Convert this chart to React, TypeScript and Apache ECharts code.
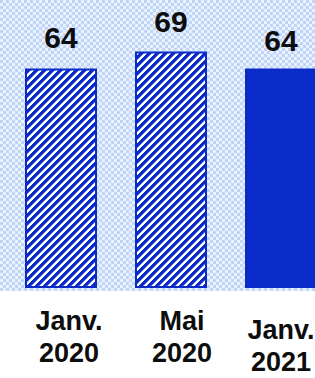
import React, { useEffect, useRef } from "react";
import * as echarts from "echarts";

const categories = ["Janv.\n2020", "Mai\n2020", "Janv.\n2021"];
const values = [64, 69, 64];
const hatched = [true, true, false];

const BLUE = "#0a2bc8";
const FONT = "'Liberation Sans', Arial, Helvetica, sans-serif";

function makeChecker(): HTMLCanvasElement {
  const c = document.createElement("canvas");
  c.width = 6;
  c.height = 6;
  const ctx = c.getContext("2d")!;
  ctx.fillStyle = "#e8f1fd";
  ctx.fillRect(0, 0, 6, 6);
  ctx.fillStyle = "#bfd6f8";
  ctx.fillRect(0, 0, 3, 3);
  ctx.fillRect(3, 3, 3, 3);
  return c;
}

function makeHatch(): HTMLCanvasElement {
  const p = 8;
  const c = document.createElement("canvas");
  c.width = p;
  c.height = p;
  const ctx = c.getContext("2d")!;
  const img = ctx.createImageData(p, p);
  for (let y = 0; y < p; y++) {
    for (let x = 0; x < p; x++) {
      const k = (x + y) % p;
      const i = (y * p + x) * 4;
      let r = 255, g = 255, b = 255;
      if (k < 4) {
        r = 10; g = 43; b = 200;
      } else if (k === 4) {
        r = 110; g = 130; b = 222;
      }
      img.data[i] = r;
      img.data[i + 1] = g;
      img.data[i + 2] = b;
      img.data[i + 3] = 255;
    }
  }
  ctx.putImageData(img, 0, 0);
  return c;
}

export default function App() {
  const ref = useRef<HTMLDivElement>(null);

  useEffect(() => {
    if (!ref.current) return;
    const chart = echarts.init(ref.current, undefined, { renderer: "svg" });
    const checker = makeChecker();
    const hatch = makeHatch();
    const checkerPattern: any = { image: checker, repeat: "repeat", imageWidth: 6, imageHeight: 6 };
    const hatchPattern: any = { image: hatch, repeat: "repeat", imageWidth: 8, imageHeight: 8 };
    const labelDist = [16, 15, 13];
    const labelPads = [
      [0, 0, 0, 16],
      [0, 0, 0, 22],
      [9, 0, 0, 0],
    ];

    chart.setOption({
      animation: false,
      backgroundColor: "#ffffff",
      graphic: [
        {
          type: "rect",
          shape: { x: 0, y: 0, width: 340, height: 291 },
          style: { fill: checkerPattern },
          z: -10,
          silent: true,
        },
      ],
      grid: { left: 6, right: 0, top: 0, bottom: 88, containLabel: false },
      xAxis: {
        type: "category",
        data: categories.map((c, i) => ({
          value: c,
          textStyle: { padding: labelPads[i] },
        })),
        axisLine: { show: false },
        axisTick: { show: false },
        splitLine: { show: false },
        axisLabel: {
          interval: 0,
          margin: 17,
          fontSize: 27,
          lineHeight: 32,
          fontWeight: "bold",
          color: "#0d0d0d",
          fontFamily: FONT,
          align: "center",
        },
      },
      yAxis: {
        type: "value",
        min: 0,
        max: 84,
        show: false,
        splitLine: { show: false },
      },
      series: [
        {
          type: "bar",
          barWidth: 72,
          data: values.map((v, i) => ({
            value: v,
            itemStyle: hatched[i]
              ? { color: hatchPattern, borderColor: BLUE, borderWidth: 2 }
              : { color: BLUE, borderWidth: 0 },
            label: { distance: labelDist[i] },
          })),
          label: {
            show: true,
            position: "top",
            fontSize: 30,
            lineHeight: 30,
            fontWeight: "bold",
            color: "#0d0d0d",
            fontFamily: FONT,
          },
        },
      ],
    });
    return () => chart.dispose();
  }, []);

  return (
    <div
      style={{
        position: "absolute",
        left: 0,
        top: 0,
        width: 315,
        height: 378,
        overflow: "hidden",
      }}
    >
      <div ref={ref} style={{ width: 336, height: 378 }} />
    </div>
  );
}
